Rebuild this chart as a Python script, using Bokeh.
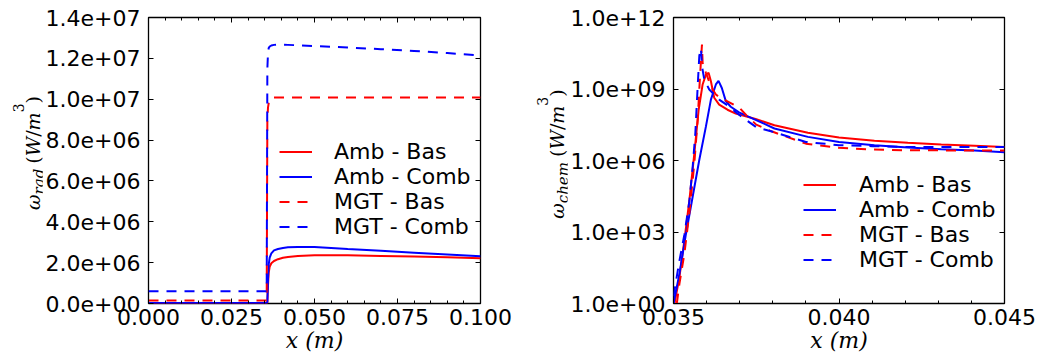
from bokeh.plotting import figure
from bokeh.layouts import row
from bokeh.models import (FixedTicker, LinearAxis, LogAxis, Legend, LegendItem, Div,
                          CustomJSTickFormatter, Range1d)
from bokeh.embed import file_html
from bokeh.resources import INLINE

# ---------------- data : left panel (radiative source, linear) ----------------
x_rad = [0.0, 0.035, 0.0356, 0.0358, 0.0360, 0.0362, 0.0365, 0.0370, 0.0378, 0.0390,
         0.0405, 0.0420, 0.0450, 0.0500, 0.0550, 0.0600, 0.0700, 0.0800, 0.0900, 0.1000]
rad_amb_bas = [0.02e6, 0.02e6, 0.02e6, 0.05e6, 0.9e6, 1.5e6, 1.8e6, 1.97e6, 2.08e6, 2.17e6,
               2.24e6, 2.28e6, 2.33e6, 2.36e6, 2.36e6, 2.36e6, 2.33e6, 2.30e6, 2.26e6, 2.22e6]
rad_amb_comb = [0.03e6, 0.03e6, 0.03e6, 0.06e6, 1.2e6, 1.9e6, 2.25e6, 2.45e6, 2.60e6, 2.67e6,
                2.72e6, 2.75e6, 2.77e6, 2.76e6, 2.72e6, 2.67e6, 2.58e6, 2.49e6, 2.40e6, 2.31e6]
rad_mgt_bas = [0.15e6, 0.15e6, 0.15e6, 9.0e6, 9.6e6, 9.8e6, 9.95e6, 10.05e6, 10.08e6, 10.08e6,
               10.08e6, 10.08e6, 10.08e6, 10.08e6, 10.08e6, 10.08e6, 10.08e6, 10.08e6, 10.08e6, 10.08e6]
rad_mgt_comb = [0.6e6, 0.6e6, 0.6e6, 11.5e6, 12.3e6, 12.5e6, 12.58e6, 12.63e6, 12.66e6, 12.67e6,
                12.67e6, 12.66e6, 12.64e6, 12.60e6, 12.57e6, 12.53e6, 12.45e6, 12.36e6, 12.26e6, 12.14e6]

rad_xticks = [0.0, 0.025, 0.05, 0.075, 0.1]
rad_xlabels = ["0.000", "0.025", "0.050", "0.075", "0.100"]
rad_xminor = [0.005, 0.01, 0.015, 0.02, 0.03, 0.035, 0.04, 0.045, 0.055, 0.06, 0.065, 0.07,
              0.08, 0.085, 0.09, 0.095]
rad_yticks = [0.0, 2e6, 4e6, 6e6, 8e6, 1e7, 1.2e7, 1.4e7]
rad_ylabels = ["0.0e+00", "2.0e+06", "4.0e+06", "6.0e+06", "8.0e+06", "1.0e+07", "1.2e+07", "1.4e+07"]

# ---------------- data : right panel (chemical source, log) ----------------
chem_x_amb_bas = [0.03503, 0.03518, 0.03533, 0.03548, 0.03563, 0.03576, 0.03588, 0.03598, 0.03606,
                  0.03613, 0.03623, 0.03638, 0.03663, 0.03688, 0.03748, 0.03805, 0.03906, 0.0400,
                  0.04107, 0.04208, 0.04309, 0.04409, 0.0450]
chem_amb_bas = [1.0, 13, 460, 2.2e4, 2.0e6, 1.35e8, 1.55e9, 4.0e9, 4.8e9, 2.1e9, 4.3e8, 2.2e8,
                1.35e8, 9.3e7, 5.5e7, 3.0e7, 1.45e7, 9.3e6, 6.8e6, 5.5e6, 4.7e6, 4.2e6, 3.7e6]

chem_x_amb_comb = [0.0350, 0.03518, 0.03538, 0.03558, 0.03578, 0.03598, 0.03613, 0.03628, 0.03636,
                   0.03646, 0.03658, 0.03673, 0.03698, 0.03748, 0.03805, 0.03906, 0.0400, 0.04107,
                   0.04208, 0.04309, 0.04409, 0.0450]
chem_amb_comb = [1.0, 18, 890, 3.1e4, 1.07e6, 2.7e7, 3.6e8, 1.55e9, 2.2e9, 1.1e9, 3.1e8, 1.8e8,
                 1.05e8, 5.1e7, 2.2e7, 9.8e6, 6.0e6, 4.4e6, 3.5e6, 3.0e6, 2.6e6, 2.2e6]

chem_x_mgt_bas = [0.0351, 0.03518, 0.03533, 0.03548, 0.03563, 0.03573, 0.0358, 0.03586, 0.03588,
                  0.03598, 0.03613, 0.03628, 0.03648, 0.0366, 0.0370, 0.0372, 0.0375, 0.0380,
                  0.0390, 0.0400, 0.0410, 0.0420, 0.0450]
chem_mgt_bas = [1.0, 6.9, 126, 6300, 7.9e5, 5.0e7, 3.2e9, 7.4e10, 1.26e10, 4.8e9, 1.26e9, 5.9e8,
                3.6e8, 3.2e8, 1.6e8, 7.9e7, 3.2e7, 1.6e7, 5.1e6, 3.4e6, 2.9e6, 2.7e6, 2.6e6]

chem_x_mgt_comb = [0.0350, 0.03503, 0.03518, 0.03533, 0.03548, 0.03558, 0.03566, 0.03573, 0.03578,
                   0.03583, 0.03586, 0.03593, 0.03608, 0.03623, 0.03638, 0.0366, 0.0370, 0.0375,
                   0.0380, 0.0390, 0.0400, 0.0410, 0.0420, 0.0450]
chem_mgt_comb = [2.0, 3.6, 63, 790, 2.0e4, 5.6e5, 1.4e7, 1.26e9, 2.5e10, 5.0e10, 9.1e9, 2.5e9,
                 9.5e8, 5.9e8, 3.6e8, 2.2e8, 7.9e7, 2.5e7, 1.6e7, 6.0e6, 4.4e6, 4.0e6, 3.7e6, 3.7e6]

chem_xticks = [0.035, 0.040, 0.045]
chem_xlabels = ["0.035", "0.040", "0.045"]
chem_xminor = [0.036, 0.037, 0.038, 0.039, 0.041, 0.042, 0.043, 0.044]
chem_yticks = [1.0, 1e3, 1e6, 1e9, 1e12]
chem_ylabels = ["1.0e+00", "1.0e+03", "1.0e+06", "1.0e+09", "1.0e+12"]

series_names = ["Amb - Bas", "Amb - Comb", "MGT - Bas", "MGT - Comb"]
x_title = "x (m)"
y_subscripts = ["rad", "chem"]

RED = "#ff0000"
BLUE = "#0000ff"
DASH = "10 8"
LW = 2
TICK_FONT = "DejaVu Sans"
MATH_FONT = "DejaVu Serif"
FS = "22px"
H = 363


def style_axis(ax, ticks, minor, labels=None, standoff=8):
    ax.ticker = FixedTicker(ticks=ticks, minor_ticks=minor)
    ax.axis_line_color = None
    ax.major_tick_in = 5
    ax.major_tick_out = 0
    ax.minor_tick_in = 3
    ax.minor_tick_out = 0
    ax.major_tick_line_color = "black"
    ax.minor_tick_line_color = "black"
    if labels is not None:
        ax.major_label_overrides = {float(t): s for t, s in zip(ticks, labels)}
        ax.major_label_text_font = TICK_FONT
        ax.major_label_text_font_size = FS
        ax.major_label_text_color = "black"
        ax.major_label_standoff = standoff
    else:
        ax.formatter = CustomJSTickFormatter(code="return ''")
        ax.major_label_text_font_size = "0px"
        ax.major_label_standoff = 0


def style_xtitle(ax):
    ax.axis_label = x_title
    ax.axis_label_text_font = MATH_FONT
    ax.axis_label_text_font_style = "italic"
    ax.axis_label_text_font_size = FS
    ax.axis_label_text_color = "black"
    ax.axis_label_standoff = 0


def make_fig(xr, yr, ytype, fw, fh, bl, br, bt, bb):
    p = figure(frame_width=fw, frame_height=fh, x_range=xr, y_range=yr, y_axis_type=ytype,
               min_border_left=bl, min_border_right=br, min_border_top=bt, min_border_bottom=bb,
               output_backend="svg", toolbar_location=None)
    p.xgrid.visible = False
    p.ygrid.visible = False
    p.outline_line_color = "black"
    p.outline_line_width = 1.3
    p.background_fill_color = "white"
    p.border_fill_color = "white"
    return p


def ytitle_div(width, cx, cy, sub):
    inner = (
        f'<div style="position:absolute;left:{cx}px;top:{cy}px;'
        'transform:translate(-50%,-50%) rotate(-90deg);white-space:nowrap;line-height:22px;'
        f'font-family:\'{MATH_FONT}\';font-size:19px;color:black;">'
        '<i>\u03c9</i>'
        f'<span style="font-size:15px;font-style:italic;vertical-align:-4px;line-height:0;">{sub}</span>'
        '<span style="margin-left:5px;">(</span><i>W</i>/<i>m</i>'
        '<span style="font-size:14px;vertical-align:16px;line-height:0;">3</span>)</div>'
    )
    html = f'<div style="position:relative;width:{width}px;height:{H}px;overflow:visible;">{inner}</div>'
    return Div(text=html, width=width, height=H, margin=0)


def add_legend(p, renderers, loc, standoff):
    items = [LegendItem(label=n, renderers=[r]) for n, r in zip(series_names, renderers)]
    lg = Legend(items=items, location=loc)
    lg.border_line_color = None
    lg.background_fill_alpha = 0
    lg.padding = 0
    lg.margin = 0
    lg.spacing = 0
    lg.glyph_width = 33
    lg.glyph_height = 25
    lg.label_height = 25
    lg.label_standoff = standoff
    lg.label_text_font = TICK_FONT
    lg.label_text_font_size = FS
    lg.label_text_color = "black"
    p.add_layout(lg)


# ---------------- left figure ----------------
d1 = ytitle_div(42, 31, 153, y_subscripts[0])
p1 = make_fig(Range1d(0.0, 0.1), Range1d(0.0, 1.4e7), "linear", 332, 286, 104, 42, 17, 60)
r1 = p1.line(x_rad, rad_amb_bas, line_color=RED, line_width=LW)
r2 = p1.line(x_rad, rad_amb_comb, line_color=BLUE, line_width=LW)
r3 = p1.line(x_rad, rad_mgt_bas, line_color=RED, line_width=LW, line_dash=DASH)
r4 = p1.line(x_rad, rad_mgt_comb, line_color=BLUE, line_width=LW, line_dash=DASH)
style_axis(p1.xaxis[0], rad_xticks, rad_xminor, rad_xlabels, 5)
style_xtitle(p1.xaxis[0])
style_axis(p1.yaxis[0], rad_yticks, [], rad_ylabels, 8)
top1 = LinearAxis()
style_axis(top1, rad_xticks, rad_xminor)
p1.add_layout(top1, "above")
right1 = LinearAxis()
style_axis(right1, rad_yticks, [])
p1.add_layout(right1, "right")
add_legend(p1, [r1, r2, r3, r4], (131, 64.5), 22)

# ---------------- right figure ----------------
d2 = ytitle_div(45, 33, 154, y_subscripts[1])
p2 = make_fig(Range1d(0.035, 0.045), Range1d(1.0, 1e12), "log", 331, 286, 104, 40, 17, 60)
s1 = p2.line(chem_x_amb_bas, chem_amb_bas, line_color=RED, line_width=LW)
s2 = p2.line(chem_x_amb_comb, chem_amb_comb, line_color=BLUE, line_width=LW)
s3 = p2.line(chem_x_mgt_bas, chem_mgt_bas, line_color=RED, line_width=LW, line_dash=DASH)
s4 = p2.line(chem_x_mgt_comb, chem_mgt_comb, line_color=BLUE, line_width=LW, line_dash=DASH)
style_axis(p2.xaxis[0], chem_xticks, chem_xminor, chem_xlabels, 5)
style_xtitle(p2.xaxis[0])
style_axis(p2.yaxis[0], chem_yticks, [], chem_ylabels, 8)
top2 = LinearAxis()
style_axis(top2, chem_xticks, chem_xminor)
p2.add_layout(top2, "above")
right2 = LogAxis()
style_axis(right2, chem_yticks, [])
p2.add_layout(right2, "right")
add_legend(p2, [s1, s2, s3, s4], (130, 31.5), 23)

layout = row(d1, p1, d2, p2)
open("out.html", "w").write(file_html(layout, INLINE))
